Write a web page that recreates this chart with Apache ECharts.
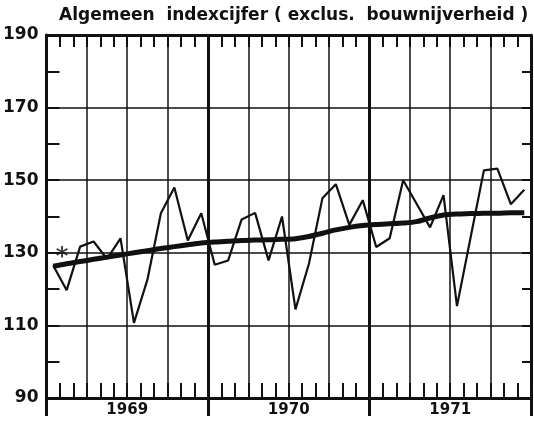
<!DOCTYPE html>
<html>
<head>
<meta charset="utf-8">
<script src="https://cdn.jsdelivr.net/npm/echarts@6/dist/echarts.min.js"></script>
<style>
  html, body { margin: 0; padding: 0; background: #fff; }
  #chart { width: 534px; height: 426px; }
</style>
</head>
<body>
<div id="chart"></div>
<script>
// maanden jan 1969 - dec 1971, x = maandindex + 0.5
var months = [0.5, 1.5, 2.5, 3.5, 4.5, 5.5, 6.5, 7.5, 8.5, 9.5, 10.5, 11.5,
              12.5, 13.5, 14.5, 15.5, 16.5, 17.5, 18.5, 19.5, 20.5, 21.5, 22.5, 23.5,
              24.5, 25.5, 26.5, 27.5, 28.5, 29.5, 30.5, 31.5, 32.5, 33.5, 34.5, 35.5]
var yearLabels = { 6: '1969', 18: '1970', 30: '1971' }
var yTicks = [90, 110, 130, 150, 170, 190]

// maandcijfers (dunne lijn)
var indexValues = [126.5, 119.7, 131.7, 133.1, 128.3, 134.0, 110.7, 122.6, 140.9, 148.0, 133.4, 140.9,
                   126.7, 127.9, 139.2, 141.0, 127.9, 140.0, 114.4, 127.0, 145.0, 148.9, 137.7, 144.5,
                   131.6, 134.0, 150.0, 143.5, 137.0, 145.9, 115.3, 134.0, 152.7, 153.2, 143.4, 147.4]
// trend (dikke lijn)
var trendValues = [126.3, 127.0, 127.6, 128.2, 128.8, 129.4, 130.0, 130.6, 131.2, 131.7, 132.2, 132.7,
                   133.0, 133.2, 133.4, 133.5, 133.6, 133.7, 133.9, 134.5, 135.4, 136.3, 137.0, 137.5,
                   137.8, 138.0, 138.2, 138.6, 139.6, 140.4, 140.7, 140.8, 140.9, 140.9, 141.0, 141.0]
// sterretje
var starPoint = [[1.15, 130]]

function pairs(xs, ys) {
    return xs.map(function (x, i) { return [x, ys[i]] })
}

var myChart = echarts.init(document.getElementById('chart'))
var ink = '#111'
var font = 'DejaVu Sans'

var option = {
    animation: false,
    backgroundColor: '#fff',
    title: {
        text: 'Algemeen  indexcijfer ( exclus.  bouwnijverheid )',
        left: 54,
        top: 2,
        textStyle: { color: ink, fontFamily: font, fontSize: 17, fontWeight: 'bold' }
    },
    grid: { left: 46, right: 1, top: 35, bottom: 28 },
    xAxis: [
        {
            // jaargrenzen
            type: 'value', min: 0, max: 36, interval: 12, position: 'bottom',
            axisLine: { show: true, onZero: false, lineStyle: { color: ink, width: 3 } },
            axisTick: { show: true, inside: false, length: 18, lineStyle: { color: ink, width: 3 } },
            axisLabel: { show: false },
            splitLine: { show: true, lineStyle: { color: ink, width: 3 } }
        },
        {
            // kwartalen + maandstreepjes, jaartallen
            type: 'value', min: 0, max: 36, interval: 3, position: 'bottom',
            axisLine: { show: false, onZero: false },
            axisTick: { show: true, inside: true, length: 15, lineStyle: { color: ink, width: 2 } },
            minorTick: { show: true, splitNumber: 3, length: 15, lineStyle: { color: ink, width: 2 } },
            axisLabel: {
                show: true, margin: 5, color: ink, fontFamily: font, fontSize: 15, fontWeight: 'bold',
                formatter: function (v) { return yearLabels[v] || '' }
            },
            splitLine: { show: true, lineStyle: { color: ink, width: 1.5 } }
        },
        {
            type: 'value', min: 0, max: 36, interval: 3, position: 'top',
            axisLine: { show: true, onZero: false, lineStyle: { color: ink, width: 3 } },
            axisTick: { show: true, inside: true, length: 12, lineStyle: { color: ink, width: 2 } },
            minorTick: { show: true, splitNumber: 3, length: 12, lineStyle: { color: ink, width: 2 } },
            axisLabel: { show: false },
            splitLine: { show: false }
        }
    ],
    yAxis: [
        {
            type: 'value', min: 90, max: 190, interval: 20, position: 'left',
            axisLine: { show: true, onZero: false, lineStyle: { color: ink, width: 3 } },
            axisTick: { show: true, inside: true, length: 13, lineStyle: { color: ink, width: 2 } },
            minorTick: { show: true, splitNumber: 2, length: 13, lineStyle: { color: ink, width: 2 } },
            axisLabel: {
                margin: 8, color: ink, fontFamily: font, fontSize: 17, fontWeight: 'bold',
                formatter: function (v) { return yTicks.indexOf(v) >= 0 ? String(v) : '' }
            },
            splitLine: { show: true, lineStyle: { color: ink, width: 1.5 } }
        },
        {
            type: 'value', min: 90, max: 190, interval: 20, position: 'right',
            axisLine: { show: true, onZero: false, lineStyle: { color: ink, width: 2.5 } },
            axisTick: { show: true, inside: true, length: 9, lineStyle: { color: ink, width: 2 } },
            minorTick: { show: true, splitNumber: 2, length: 9, lineStyle: { color: ink, width: 2 } },
            axisLabel: { show: false },
            splitLine: { show: false }
        }
    ],
    series: [
        {
            name: 'indexcijfer',
            type: 'line',
            xAxisIndex: 1,
            data: pairs(months, indexValues),
            showSymbol: false,
            lineStyle: { color: ink, width: 2.2 },
            z: 3
        },
        {
            name: 'trend',
            type: 'line',
            xAxisIndex: 1,
            data: pairs(months, trendValues),
            showSymbol: false,
            smooth: 0.3,
            lineStyle: { color: ink, width: 5 },
            z: 4
        },
        {
            name: 'ster',
            type: 'scatter',
            xAxisIndex: 1,
            data: starPoint,
            symbolSize: 0,
            label: {
                show: true, position: 'inside', formatter: '*',
                color: ink, fontFamily: font, fontSize: 24, fontWeight: 'bold', offset: [0, 5]
            },
            z: 5
        }
    ]
}

option && myChart.setOption(option)
</script>
</body>
</html>
